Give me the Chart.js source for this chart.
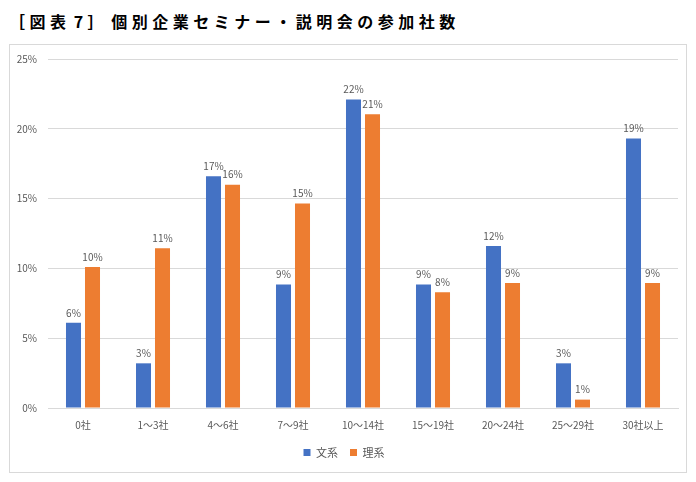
<!DOCTYPE html>
<html>
<head>
<meta charset="utf-8">
<script src="https://cdn.jsdelivr.net/npm/chart.js@4"></script>
<style>
  body { margin: 0; background: #fff; width: 696px; height: 482px; position: relative; overflow: hidden; }
  .title {
    position: absolute; left: 9px; top: 9px;
    font-family: "Noto Sans CJK JP", sans-serif; font-weight: bold;
    font-size: 16px; letter-spacing: 4.5px; word-spacing: -5px; color: #000; white-space: nowrap;
  }
  .box {
    position: absolute; left: 9px; top: 44px; width: 678px; height: 429px;
    border: 1px solid #D9D9D9; box-sizing: border-box;
  }
  .box canvas { display: block; margin-top: -3px; }
</style>
</head>
<body>
<div class="title">［図表 7］ 個別企業セミナー・説明会の参加社数</div>
<div class="box"><canvas id="myChart" width="676" height="430"></canvas></div>
<script>
const categories = ['0社', '1～3社', '4～6社', '7～9社', '10～14社', '15～19社', '20～24社', '25～29社', '30社以上'];
const bunkei = [6.1, 3.2, 16.6, 8.85, 22.1, 8.85, 11.6, 3.2, 19.3];
const rikei = [10.1, 11.45, 16.0, 14.65, 21.05, 8.3, 8.95, 0.6, 8.95];
const yTicks = [0, 5, 10, 15, 20, 25];

const font = '"Noto Sans CJK JP", "Noto Sans", sans-serif';

// percent labels above each bar
const barLabels = {
    id: 'barLabels',
    afterDatasetsDraw(chart) {
        const ctx = chart.ctx;
        ctx.save();
        ctx.font = '10px ' + font;
        ctx.fillStyle = '#595959';
        ctx.textAlign = 'center';
        ctx.textBaseline = 'bottom';
        chart.data.datasets.forEach((ds, i) => {
            chart.getDatasetMeta(i).data.forEach((bar, j) => {
                ctx.fillText(Math.round(ds.data[j]) + '%', bar.x, bar.y - 5);
            });
        });
        ctx.restore();
    }
};

new Chart(document.getElementById('myChart'), {
    type: 'bar',
    data: {
        labels: categories,
        datasets: [
            { label: '文系', data: bunkei, backgroundColor: '#4472C4' },
            { label: '理系', data: rikei, backgroundColor: '#ED7D31' }
        ]
    },
    options: {
        responsive: false,
        animation: false,
        categoryPercentage: 0.543,
        barPercentage: 0.79,
        layout: { padding: { top: 11, right: 8, left: 0, bottom: 4 } },
        scales: {
            x: {
                grid: { display: false },
                border: { color: '#D9D9D9' },
                ticks: { color: '#595959', font: { family: font, size: 10 }, padding: 3, maxRotation: 0 },
                afterFit(s) { s.height = 27; }
            },
            y: {
                min: 0,
                max: 25,
                afterBuildTicks(s) { s.ticks = yTicks.map(v => ({ value: v })); },
                grid: { color: '#D9D9D9', drawTicks: false },
                border: { display: false },
                ticks: { color: '#595959', font: { family: font, size: 10 }, padding: 11, callback: v => v + '%' },
                afterFit(s) { s.width = 38; }
            }
        },
        plugins: {
            legend: {
                position: 'bottom',
                labels: { boxWidth: 7, boxHeight: 7, color: '#595959', font: { family: font, size: 11 }, padding: 12 }
            },
            tooltip: { enabled: false }
        }
    },
    plugins: [barLabels]
});
</script>
</body>
</html>
